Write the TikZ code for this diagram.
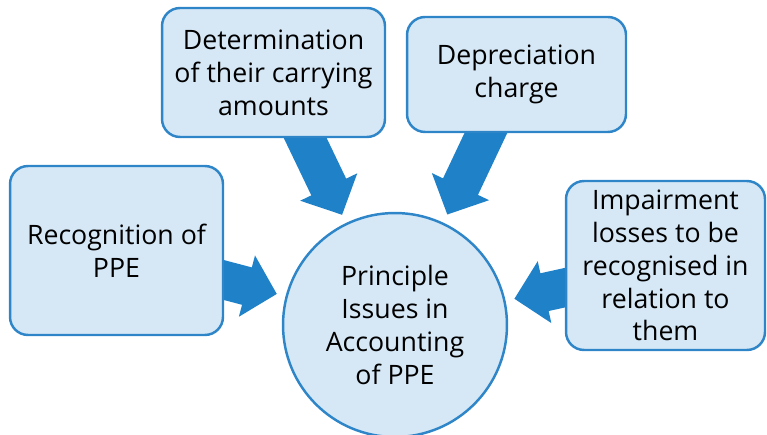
\documentclass[tikz,border=0pt]{standalone}
\usepackage{fontspec}
\setmainfont{Open Sans}
\usetikzlibrary{arrows.meta,calc,backgrounds}
\definecolor{ppeline}{RGB}{46,134,201}
\definecolor{ppefill}{RGB}{214,232,246}
\definecolor{ppearrow}{RGB}{31,129,200}
\begin{document}
\begin{tikzpicture}[x=0.02cm,y=-0.02cm,
  issue/.style={draw=ppeline, fill=ppefill, line width=1.4pt, rounded corners=0.36cm,
    align=center, inner sep=0pt, font=\fontsize{15.2}{18.7}\selectfont},
  core/.style={circle, draw=ppeline, fill=ppefill, line width=1.4pt, minimum size=4.48cm,
    inner sep=0pt, align=center, font=\fontsize{15.2}{18.7}\selectfont},
  bigarrow/.style={draw=ppearrow, line width=22pt,
    -{Triangle[length=17.6pt,width=35pt]}, shorten >=5.1pt}]
  \useasboundingbox (0,0) rectangle (767,435);

  % Define nodes for all elements
  \node[issue, minimum width=4.26cm, minimum height=3.38cm] (recog) at (116.5,250.5) {Recognition of\\PPE};
  \node[issue, minimum width=4.46cm, minimum height=2.58cm] (determ) at (273.5,72.5) {Determination\\of their carrying\\amounts};
  \node[issue, minimum width=4.38cm, minimum height=2.30cm] (deprec) at (516.5,74.5) {Depreciation\\charge};
  \node[issue, minimum width=3.98cm, minimum height=3.38cm] (impair) at (665.5,265.5) {Impairment\\losses to be\\recognised in\\relation to\\them};
  \node[core] (ppe) at (395,325) {Principle\\Issues in\\Accounting\\of PPE};

  % Draw arrows behind the boxes
  \begin{pgfonlayer}{background}
    \draw[bigarrow] ($(recog.east)+(-10,27)$) -- (ppe);
    \draw[bigarrow] ($(determ.south)+(27,-10)$) -- (ppe);
    \draw[bigarrow] ($(deprec.south)+(-26,-10)$) -- (ppe);
    \draw[bigarrow] ($(impair.west)+(10,20)$) -- (ppe);
  \end{pgfonlayer}

\end{tikzpicture}
\end{document}
